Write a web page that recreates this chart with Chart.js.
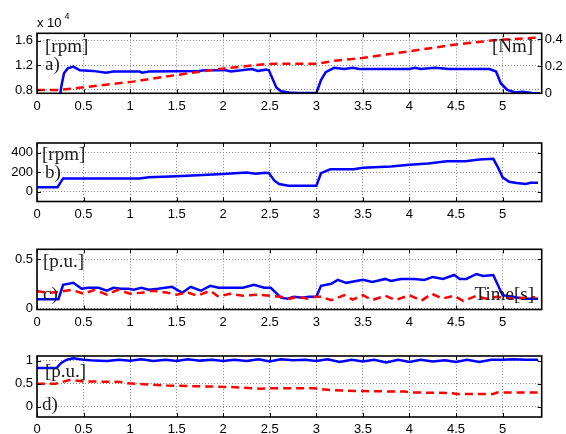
<!DOCTYPE html>
<html lang="en">
<head>
    <meta charset="UTF-8">
    <title>Speed, torque and current traces</title>
    <script src="https://cdn.jsdelivr.net/npm/chart.js"></script>
    <style>
        body {
            margin: 0;
            background: #fff;
        }
        .wrap {
            position: relative;
            width: 566px;
            height: 434px;
            overflow: hidden;
        }
        .wrap canvas {
            position: absolute;
            left: 0;
        }
    </style>
</head>
<body>
    <div class="wrap">
        <canvas id="panelA" width="566" height="118" style="top:0px"></canvas>
        <canvas id="panelB" width="566" height="110" style="top:118px"></canvas>
        <canvas id="panelC" width="566" height="106" style="top:228px"></canvas>
        <canvas id="panelD" width="566" height="100" style="top:334px"></canvas>
    </div>

    <script>
        // shared time axis ticks
        const timeTicks = [0, 0.5, 1, 1.5, 2, 2.5, 3, 3.5, 4, 4.5, 5];

        // a) speed [rpm] (left) and load torque [Nm] (right)
        const tSpeedA = [0, 0.24, 0.26, 0.29, 0.33, 0.39, 0.46, 0.6, 0.74, 0.82, 1.1, 1.13, 1.2, 1.74, 1.8, 2.03, 2.08, 2.24, 2.31, 2.37, 2.46, 2.49, 2.57, 2.62, 2.71, 2.8, 3.0, 3.05, 3.1, 3.19, 3.3, 3.39, 3.46, 4.0, 4.06, 4.12, 4.28, 4.42, 4.86, 4.93, 4.98, 5.05, 5.14, 5.21, 5.32, 5.4];
        const speedA = [6000, 6000, 8500, 10700, 11500, 11800, 11200, 11100, 10800, 11000, 11000, 10800, 11000, 11100, 11200, 11200, 11000, 11300, 11400, 11100, 11300, 11200, 8400, 7800, 7600, 7500, 7500, 9600, 10900, 11600, 11400, 11600, 11400, 11400, 11600, 11400, 11600, 11400, 11400, 11000, 9100, 8000, 7600, 7700, 7500, 7450];
        const tTorqueA = [0, 0.25, 0.5, 1.03, 1.5, 2.03, 2.46, 2.6, 3.0, 3.2, 3.49, 4.0, 4.5, 4.9, 5.35, 5.4];
        const torqueA = [0.025, 0.025, 0.044, 0.086, 0.135, 0.185, 0.215, 0.218, 0.218, 0.24, 0.26, 0.31, 0.36, 0.39, 0.41, 0.41];
        const speedTicksA = [8000, 12000, 16000];
        const torqueTicksA = [0, 0.2, 0.4];

        // b) speed error [rpm]
        const tSpeedB = [0, 0.22, 0.28, 1.1, 1.2, 1.5, 2.0, 2.25, 2.35, 2.45, 2.49, 2.55, 2.6, 2.7, 3.0, 3.05, 3.15, 3.4, 3.5, 3.8, 4.0, 4.2, 4.4, 4.6, 4.75, 4.9, 4.95, 5.0, 5.07, 5.15, 5.25, 5.3, 5.38];
        const speedB = [45, 45, 137, 137, 148, 159, 183, 197, 185, 195, 193, 114, 79, 62, 62, 190, 231, 231, 245, 259, 276, 290, 314, 314, 331, 338, 250, 148, 103, 90, 79, 93, 93];
        const ticksB = [0, 200, 400];

        // c) currents [p.u.]
        const tBlueC = [0, 0.23, 0.28, 0.39, 0.48, 0.55, 0.66, 0.75, 0.82, 0.9, 0.98, 1.04, 1.12, 1.2, 1.3, 1.45, 1.56, 1.65, 1.76, 1.86, 1.95, 2.07, 2.21, 2.33, 2.44, 2.51, 2.62, 2.69, 2.76, 2.85, 2.92, 3.0, 3.05, 3.16, 3.23, 3.32, 3.5, 3.6, 3.74, 3.8, 3.91, 4.05, 4.16, 4.25, 4.36, 4.48, 4.54, 4.61, 4.72, 4.79, 4.9, 5.0, 5.1, 5.24, 5.33, 5.38];
        const blueC = [0.095, 0.094, 0.24, 0.26, 0.20, 0.21, 0.21, 0.18, 0.21, 0.20, 0.20, 0.19, 0.21, 0.19, 0.20, 0.22, 0.16, 0.22, 0.18, 0.23, 0.21, 0.21, 0.21, 0.24, 0.21, 0.21, 0.11, 0.10, 0.12, 0.11, 0.12, 0.12, 0.23, 0.25, 0.29, 0.26, 0.29, 0.27, 0.30, 0.28, 0.30, 0.30, 0.29, 0.32, 0.30, 0.34, 0.30, 0.30, 0.35, 0.33, 0.34, 0.135, 0.12, 0.10, 0.10, 0.10];
        const tRedC = [0, 0.14, 0.25, 0.37, 0.5, 0.62, 0.75, 0.87, 1.0, 1.12, 1.25, 1.4, 1.5, 1.61, 1.72, 1.86, 1.95, 2.07, 2.21, 2.36, 2.5, 2.61, 2.72, 2.8, 2.9, 3.0, 3.05, 3.16, 3.3, 3.39, 3.5, 3.6, 3.74, 3.85, 4.0, 4.13, 4.24, 4.35, 4.48, 4.58, 4.71, 4.83, 4.94, 5.1, 5.24, 5.35];
        const redC = [0.175, 0.16, 0.17, 0.19, 0.15, 0.19, 0.14, 0.19, 0.15, 0.16, 0.18, 0.16, 0.14, 0.165, 0.13, 0.18, 0.12, 0.15, 0.13, 0.14, 0.13, 0.12, 0.10, 0.12, 0.10, 0.12, 0.12, 0.084, 0.135, 0.09, 0.135, 0.085, 0.13, 0.085, 0.135, 0.08, 0.15, 0.10, 0.13, 0.075, 0.125, 0.10, 0.12, 0.10, 0.11, 0.115];
        const ticksC = [0, 0.5];

        // d) flux / voltage [p.u.]
        const tBlueD = [0, 0.21, 0.26, 0.32, 0.39, 0.5, 0.62, 0.75, 0.88, 1.0, 1.12, 1.25, 1.38, 1.5, 1.62, 1.75, 1.88, 2.0, 2.12, 2.25, 2.38, 2.5, 2.62, 2.75, 2.88, 3.0, 3.12, 3.25, 3.38, 3.5, 3.62, 3.75, 3.88, 4.0, 4.12, 4.25, 4.38, 4.5, 4.62, 4.75, 4.88, 5.0, 5.12, 5.25, 5.38];
        const blueD = [0.84, 0.84, 0.95, 1.02, 1.05, 1.02, 1.00, 0.99, 1.02, 1.00, 1.03, 0.99, 1.02, 0.99, 1.03, 1.00, 1.02, 0.99, 1.02, 0.99, 1.03, 0.98, 1.03, 1.01, 1.02, 0.99, 1.03, 0.97, 1.02, 0.98, 1.02, 0.96, 1.02, 0.97, 1.02, 0.98, 1.01, 0.97, 1.02, 0.97, 1.02, 1.02, 1.03, 1.02, 1.02];
        const tRedD = [0, 0.2, 0.35, 0.5, 0.9, 0.97, 1.4, 2.07, 2.4, 2.5, 2.98, 3.16, 3.49, 3.95, 4.02, 4.45, 4.5, 4.9, 4.94, 5.38];
        const redD = [0.50, 0.50, 0.58, 0.55, 0.54, 0.51, 0.46, 0.43, 0.39, 0.40, 0.40, 0.36, 0.34, 0.33, 0.31, 0.30, 0.28, 0.28, 0.31, 0.31];
        const ticksD = [0, 0.5, 1];

        const SANS = "'Liberation Sans', Arial, sans-serif";
        const SERIF = "'Liberation Serif', 'Times New Roman', serif";
        const BLUE = '#0000ff';
        const RED = '#ff0000';

        Chart.defaults.font.family = SANS;
        Chart.defaults.color = '#000';

        const pts = (xs, ys) => xs.map((x, i) => ({ x: x, y: ys[i] }));

        // frame, inward tick marks (MATLAB style) and in-plot labels
        const framePlugin = {
            id: 'frame',
            afterDraw(chart, args, opts) {
                const { ctx, chartArea: a, scales } = chart;
                const len = 4;
                ctx.save();
                ctx.strokeStyle = '#000';
                ctx.lineWidth = 1;
                ctx.beginPath();
                scales.x.ticks.forEach(t => {
                    const px = Math.round(scales.x.getPixelForValue(t.value)) + 0.5;
                    ctx.moveTo(px, a.bottom); ctx.lineTo(px, a.bottom - len);
                    ctx.moveTo(px, a.top); ctx.lineTo(px, a.top + len);
                });
                scales.y.ticks.forEach(t => {
                    const py = Math.round(scales.y.getPixelForValue(t.value)) + 0.5;
                    ctx.moveTo(a.left, py); ctx.lineTo(a.left + len, py);
                });
                const rs = opts.ownRight ? scales.y2 : scales.y;
                rs.ticks.forEach(t => {
                    const py = Math.round(rs.getPixelForValue(t.value)) + 0.5;
                    ctx.moveTo(a.right, py); ctx.lineTo(a.right - len, py);
                });
                ctx.stroke();

                ctx.lineWidth = 1.6;
                ctx.strokeRect(a.left, a.top, a.right - a.left, a.bottom - a.top);

                (opts.texts || []).forEach(s => {
                    ctx.font = s.font;
                    ctx.fillStyle = s.color || '#1a1a1a';
                    ctx.textBaseline = 'middle';
                    ctx.textAlign = s.from === 'right' ? 'right' : 'left';
                    const x = (s.from === 'right' ? a.right : a.left) + s.dx;
                    ctx.fillText(s.text, x, a.top + s.dy);
                });
                ctx.restore();
            }
        };

        function makePanel(id, cfg) {
            const fixTicks = (vals) => (scale) => { scale.ticks = vals.map(v => ({ value: v })); };
            new Chart(document.getElementById(id), {
                type: 'line',
                data: { datasets: cfg.datasets },
                options: {
                    responsive: false,
                    animation: false,
                    devicePixelRatio: 1,
                    layout: { padding: { top: cfg.padTop, left: 0, right: 0, bottom: 0 } },
                    elements: { point: { radius: 0 }, line: { tension: 0 } },
                    plugins: {
                        legend: { display: false },
                        tooltip: { enabled: false },
                        frame: { texts: cfg.texts, ownRight: !!cfg.rightTicks }
                    },
                    scales: {
                        x: {
                            type: 'linear',
                            min: 0,
                            max: 5.42,
                            afterBuildTicks: fixTicks(timeTicks),
                            afterFit: (s) => { s.height = cfg.xHeight; },
                            ticks: { font: { size: 13 }, padding: 5, maxRotation: 0, autoSkip: false, callback: v => String(v) },
                            grid: { color: '#8a8a8a', lineWidth: 1, drawTicks: false },
                            border: { display: false, dash: [1, 2] }
                        },
                        y: {
                            type: 'linear',
                            position: 'left',
                            min: cfg.yMin,
                            max: cfg.yMax,
                            afterBuildTicks: fixTicks(cfg.yTicks),
                            afterFit: (s) => { s.width = 37; },
                            ticks: { font: { size: 13 }, padding: 4, callback: cfg.yFmt || (v => String(v)) },
                            grid: { color: '#8a8a8a', lineWidth: 1, drawTicks: false },
                            border: { display: false, dash: [1, 2] }
                        },
                        y2: {
                            type: 'linear',
                            position: 'right',
                            min: cfg.y2Min !== undefined ? cfg.y2Min : cfg.yMin,
                            max: cfg.y2Max !== undefined ? cfg.y2Max : cfg.yMax,
                            afterBuildTicks: fixTicks(cfg.rightTicks || cfg.yTicks),
                            afterFit: (s) => { s.width = 24.3; },
                            ticks: { display: !!cfg.rightTicks, font: { size: 13 }, padding: 3, callback: v => String(v) },
                            grid: { display: false, drawTicks: false },
                            border: { display: false }
                        }
                    }
                },
                plugins: [framePlugin]
            });
        }

        const serif = '19px ' + SERIF;

        // a)
        makePanel('panelA', {
            padTop: 33.3, xHeight: 24.7,
            yMin: 7460, yMax: 17200, yTicks: speedTicksA,
            yFmt: v => (v / 10000).toFixed(1),
            y2Min: 0, y2Max: 0.442, rightTicks: torqueTicksA,
            datasets: [
                { data: pts(tTorqueA, torqueA), yAxisID: 'y2', borderColor: RED, borderWidth: 2.5, borderDash: [8, 5] },
                { data: pts(tSpeedA, speedA), yAxisID: 'y', borderColor: BLUE, borderWidth: 2.5 }
            ],
            texts: [
                { text: '[rpm]', font: serif, dx: 8, dy: 13.7 },
                { text: 'a)', font: serif, dx: 8, dy: 31.7 },
                { text: '[Nm]', font: serif, from: 'right', dx: -8.5, dy: 13.4 },
                { text: 'x 10', font: '13px ' + SANS, dx: 0, dy: -9.5, color: '#000' },
                { text: '4', font: '9px ' + SANS, dx: 27.5, dy: -16.5, color: '#000' }
            ]
        });

        // b)
        makePanel('panelB', {
            padTop: 25, xHeight: 26.5,
            yMin: -100, yMax: 500, yTicks: ticksB,
            datasets: [
                { data: pts(tSpeedB, speedB), borderColor: BLUE, borderWidth: 2.5 }
            ],
            texts: [
                { text: '[rpm]', font: serif, dx: 5, dy: 12 },
                { text: 'b)', font: serif, dx: 8, dy: 30 }
            ]
        });

        // c)
        makePanel('panelC', {
            padTop: 21.3, xHeight: 24.5,
            yMin: -0.01, yMax: 0.6, yTicks: ticksC,
            datasets: [
                { data: pts(tRedC, redC), borderColor: RED, borderWidth: 2.5, borderDash: [8, 5] },
                { data: pts(tBlueC, blueC), borderColor: BLUE, borderWidth: 2.5 }
            ],
            texts: [
                { text: '[p.u.]', font: serif, dx: 6, dy: 12.4 },
                { text: 'c)', font: serif, dx: 6, dy: 45.7 },
                { text: 'Time[s]', font: serif, from: 'right', dx: -7.7, dy: 45.7 }
            ]
        });

        // d)
        makePanel('panelD', {
            padTop: 22, xHeight: 17,
            yMin: -0.22, yMax: 1.1, yTicks: ticksD,
            datasets: [
                { data: pts(tRedD, redD), borderColor: RED, borderWidth: 2.5, borderDash: [8, 5] },
                { data: pts(tBlueD, blueD), borderColor: BLUE, borderWidth: 2.5 }
            ],
            texts: [
                { text: '[p.u.]', font: serif, dx: 8, dy: 15.7 },
                { text: 'd)', font: serif, dx: 5, dy: 49 }
            ]
        });
    </script>
</body>
</html>
